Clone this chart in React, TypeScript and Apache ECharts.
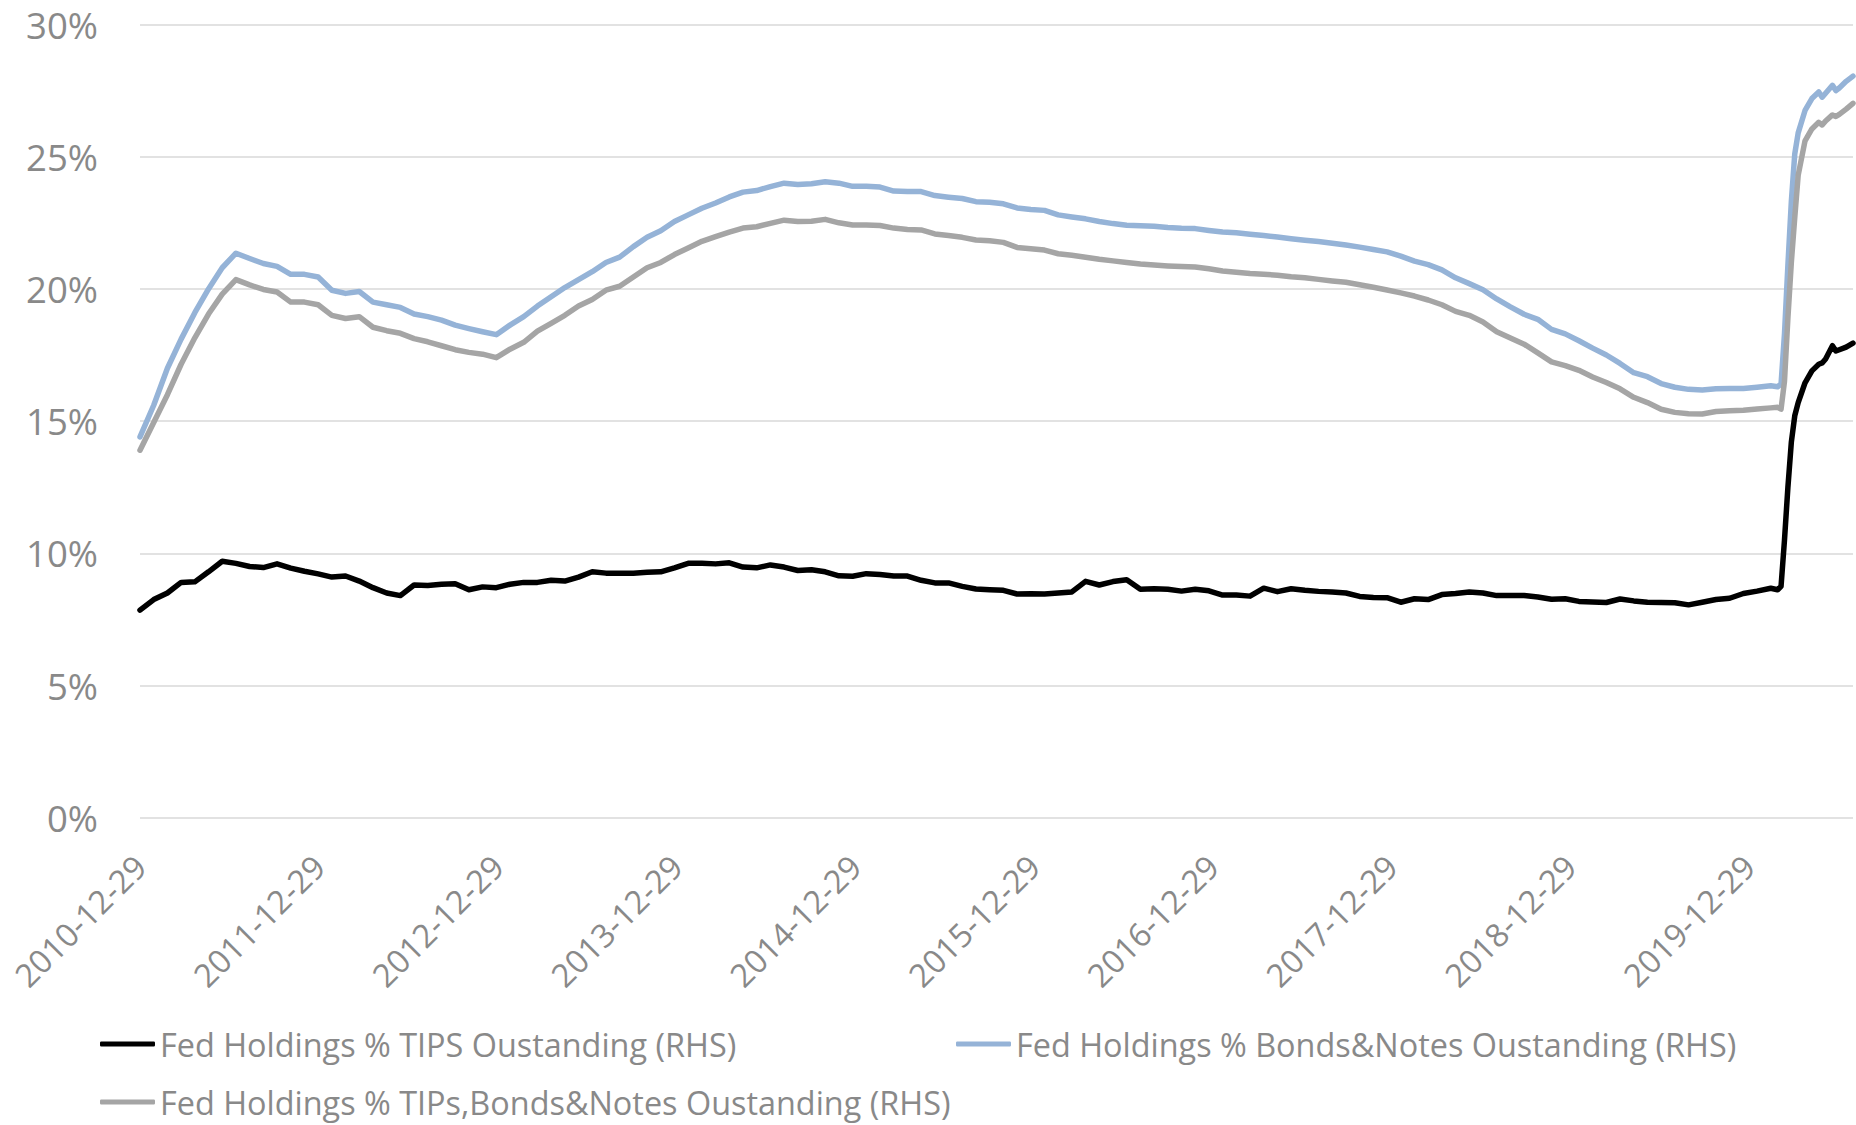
import React, { useEffect, useRef } from "react";
import * as echarts from "echarts";

// x positions: weeks since 2010-12-29
const weeks: number[] = [
  0, 4, 8, 12, 16, 20, 24, 28, 32, 36,
  40, 44, 48, 52, 56, 60, 64, 68, 72, 76,
  80, 84, 88, 92, 96, 100, 104, 108, 112, 116,
  120, 124, 128, 132, 136, 140, 144, 148, 152, 156,
  160, 164, 168, 172, 176, 180, 184, 188, 192, 196,
  200, 204, 208, 212, 216, 220, 224, 228, 232, 236,
  240, 244, 248, 252, 256, 260, 264, 268, 272, 276,
  280, 284, 288, 292, 296, 300, 304, 308, 312, 316,
  320, 324, 328, 332, 336, 340, 344, 348, 352, 356,
  360, 364, 368, 372, 376, 380, 384, 388, 392, 396,
  400, 404, 408, 412, 416, 420, 424, 428, 432, 436,
  440, 444, 448, 452, 456, 460, 464, 468, 472, 476,
  478, 479, 480, 481, 482, 483, 484, 486, 488, 490, 491, 492, 494, 495, 496, 498, 500,
];

const tipsPct: number[] = [
  7.85, 8.25, 8.5, 8.9, 8.92, 9.3, 9.7, 9.62, 9.5, 9.46,
  9.6, 9.44, 9.32, 9.22, 9.1, 9.14, 8.95, 8.7, 8.5, 8.4,
  8.8, 8.78, 8.83, 8.85, 8.62, 8.73, 8.7, 8.83, 8.9, 8.9,
  8.98, 8.95, 9.1, 9.3, 9.25, 9.25, 9.25, 9.28, 9.3, 9.45,
  9.62, 9.62, 9.6, 9.64, 9.48, 9.45, 9.56, 9.48, 9.35, 9.38,
  9.3, 9.15, 9.13, 9.23, 9.2, 9.14, 9.14, 8.98, 8.88, 8.88,
  8.75, 8.65, 8.62, 8.6, 8.46, 8.47, 8.46, 8.5, 8.54, 8.94,
  8.8, 8.93, 9.0, 8.64, 8.66, 8.64, 8.57, 8.64, 8.58, 8.42,
  8.42, 8.38, 8.68, 8.55, 8.66, 8.6, 8.56, 8.54, 8.5, 8.37,
  8.33, 8.32, 8.15, 8.28, 8.25, 8.44, 8.48, 8.54, 8.5, 8.4,
  8.4, 8.4, 8.35, 8.26, 8.28, 8.18, 8.16, 8.14, 8.27, 8.2,
  8.15, 8.14, 8.13, 8.05, 8.15, 8.25, 8.3, 8.48, 8.57, 8.68,
  8.62, 8.75, 10.5, 12.5, 14.2, 15.2, 15.7, 16.45, 16.9, 17.15, 17.2, 17.35, 17.85, 17.65, 17.7, 17.8, 17.95,
];

const bondsNotesPct: number[] = [
  14.4, 15.6, 17.0, 18.1, 19.1, 20.0, 20.8, 21.35, 21.15, 20.96,
  20.85, 20.55, 20.55, 20.45, 19.95, 19.83, 19.9, 19.5, 19.4, 19.3,
  19.05, 18.95, 18.82, 18.63, 18.5, 18.38, 18.27, 18.63, 18.95, 19.35,
  19.7, 20.05, 20.35, 20.65, 21.0, 21.2, 21.6, 21.95, 22.2, 22.55,
  22.8, 23.05, 23.25, 23.48, 23.66, 23.72, 23.87, 24.0, 23.95, 23.98,
  24.05, 24.0, 23.88, 23.88, 23.85, 23.7, 23.68, 23.68, 23.53, 23.47,
  23.42, 23.3, 23.28, 23.22, 23.06, 23.0, 22.97, 22.8, 22.72, 22.65,
  22.55, 22.47, 22.41, 22.39, 22.37, 22.32, 22.29, 22.28, 22.21, 22.15,
  22.12, 22.07, 22.02, 21.96, 21.9, 21.84, 21.79, 21.73, 21.66, 21.58,
  21.49, 21.4, 21.24, 21.05, 20.92, 20.72, 20.42, 20.2, 19.97, 19.62,
  19.32, 19.04, 18.85, 18.47, 18.3, 18.04, 17.76, 17.5, 17.18, 16.83,
  16.68, 16.42, 16.28, 16.2, 16.18, 16.22, 16.23, 16.23, 16.28, 16.34,
  16.3, 16.4, 18.3, 20.9, 23.3, 25.1, 25.9, 26.75, 27.2, 27.45, 27.25, 27.4, 27.7, 27.5, 27.6, 27.85, 28.05,
];

const allPct: number[] = [
  13.9, 14.95, 16.0, 17.15, 18.15, 19.05, 19.8, 20.35, 20.15, 19.98,
  19.88, 19.5, 19.5, 19.4, 19.0, 18.88, 18.95, 18.55, 18.42, 18.32,
  18.12, 18.0, 17.85, 17.7, 17.6, 17.53, 17.4, 17.72, 17.98, 18.4,
  18.7, 19.0, 19.35, 19.6, 19.95, 20.1, 20.45, 20.8, 21.0, 21.3,
  21.55, 21.8, 21.98, 22.15, 22.3, 22.35, 22.48, 22.6, 22.55, 22.56,
  22.63, 22.5, 22.42, 22.42, 22.4, 22.3, 22.25, 22.23, 22.08, 22.02,
  21.95, 21.85, 21.82, 21.76, 21.57, 21.52, 21.47, 21.33, 21.27, 21.2,
  21.12, 21.06, 21.0, 20.94, 20.9, 20.87, 20.85, 20.83, 20.76, 20.68,
  20.63, 20.58, 20.55, 20.52, 20.46, 20.42, 20.36, 20.3, 20.25, 20.16,
  20.06, 19.96, 19.85, 19.73, 19.58, 19.4, 19.15, 19.0, 18.75, 18.38,
  18.14, 17.91, 17.58, 17.24, 17.1, 16.92, 16.67, 16.46, 16.22, 15.9,
  15.7, 15.45, 15.33, 15.28, 15.27, 15.36, 15.39, 15.41, 15.46, 15.5,
  15.52, 15.45, 16.5, 18.9, 21.0, 22.7, 24.3, 25.6, 26.05, 26.3, 26.2, 26.35, 26.58, 26.52, 26.6, 26.8, 27.02,
];

const xTickLabels: string[] = [
  "2010-12-29", "2011-12-29", "2012-12-29", "2013-12-29", "2014-12-29",
  "2015-12-29", "2016-12-29", "2017-12-29", "2018-12-29", "2019-12-29",
];

const yTicks: number[] = [0, 5, 10, 15, 20, 25, 30];

const seriesNames: string[] = [
  "Fed Holdings % TIPS Oustanding (RHS)",
  "Fed Holdings % Bonds&Notes Oustanding (RHS)",
  "Fed Holdings % TIPs,Bonds&Notes Oustanding (RHS)",
];
const seriesColors: string[] = ["#000000", "#95B3D7", "#A5A5A5"];

const WEEKS_PER_YEAR = 365.25 / 7;
const FONT = "'Open Sans', 'Noto Sans', sans-serif";
const LABEL_COLOR = "#898989";

export default function App() {
  const ref = useRef<HTMLDivElement>(null);

  useEffect(() => {
    if (!ref.current) return;
    const chart = echarts.init(ref.current, undefined, { renderer: "svg" });
    const valueSets = [tipsPct, bondsNotesPct, allPct];

    const legendPos = [
      { left: 100, top: 1026 },
      { left: 956, top: 1026 },
      { left: 100, top: 1084 },
    ];

    chart.setOption({
      animation: false,
      backgroundColor: "#ffffff",
      grid: { left: 140, right: 3, top: 24.5, bottom: 307.3, containLabel: false },
      xAxis: {
        type: "value",
        min: 0,
        max: weeks[weeks.length - 1],
        interval: WEEKS_PER_YEAR,
        axisLine: { show: false },
        axisTick: { show: false },
        splitLine: { show: false },
        axisLabel: {
          rotate: 45,
          margin: 43,
          color: LABEL_COLOR,
          fontSize: 32.5,
          fontFamily: FONT,
          showMaxLabel: false,
          formatter: (v: number) => {
            const idx = Math.round(v / WEEKS_PER_YEAR);
            if (Math.abs(v - idx * WEEKS_PER_YEAR) > 0.5) return "";
            return xTickLabels[idx] ?? "";
          },
        },
      },
      yAxis: {
        type: "value",
        min: yTicks[0],
        max: yTicks[yTicks.length - 1],
        interval: yTicks[1] - yTicks[0],
        axisLine: { show: false },
        axisTick: { show: false },
        splitLine: { lineStyle: { color: "#d9d9d9", width: 1.5 } },
        axisLabel: {
          formatter: "{value}%",
          margin: 42,
          color: LABEL_COLOR,
          fontSize: 36.5,
          fontFamily: FONT,
        },
      },
      legend: seriesNames.map((name, i) => ({
        data: [name],
        left: legendPos[i].left,
        top: legendPos[i].top,
        padding: 0,
        icon: "roundRect",
        itemWidth: 55,
        itemHeight: 5,
        textStyle: {
          color: LABEL_COLOR,
          fontSize: 32.4,
          fontFamily: FONT,
          lineHeight: 36,
        },
      })),
      series: seriesNames.map((name, i) => ({
        name,
        type: "line",
        data: weeks.map((w, j) => [w, valueSets[i][j]]),
        showSymbol: false,
        symbol: "none",
        color: seriesColors[i],
        lineStyle: { color: seriesColors[i], width: 5.5, cap: "round", join: "round" },
        z: 2 + i,
      })),
    });

    return () => chart.dispose();
  }, []);

  return (
    <div
      ref={ref}
      style={{ position: "absolute", left: 0, top: 0, width: 1856, height: 1125 }}
    />
  );
}
